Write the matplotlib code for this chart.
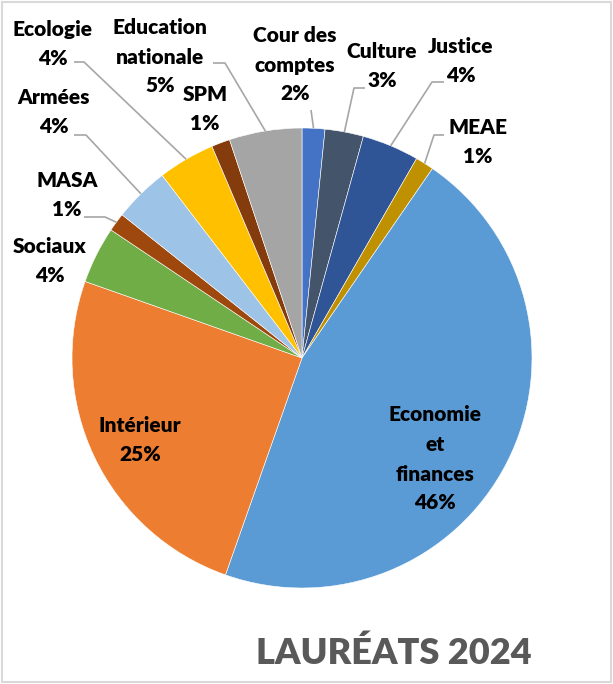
import matplotlib.pyplot as plt
from matplotlib.patches import Rectangle
import numpy as np

# slices, clockwise from 12 o'clock
names = ["Cour des\ncomptes", "Culture", "Justice", "MEAE", "Economie\net\nfinances",
         "Intérieur", "Sociaux", "MASA", "Armées", "Ecologie", "SPM", "Education\nnationale"]
shares = [1.6, 2.7, 4.0, 1.3, 45.8, 25.0, 4.0, 1.3, 3.9, 4.0, 1.3, 5.1]
colors = ["#4472C4", "#44546A", "#2F5597", "#BF9000", "#5B9BD5", "#ED7D31",
          "#70AD47", "#9E480E", "#9DC3E6", "#FFC000", "#843C0C", "#A5A5A5"]
title = "LAURÉATS 2024"

# layout (canvas pixels): label centres and leader lines (elbow x, end x, y)
CX, CY, R = 302, 358, 230
LINE_H = 29
label_pos = [(295, 65), (382, 66), (461, 61), (478, 142), (435, 459), (140, 440),
             (50, 261), (67, 195), (54, 112), (53, 44), (205, 109), (160, 57)]
leaders = [(311, 311, 110), (354, 365, 88), (432, 444, 82), (434, 444, 135), None, None,
           None, (105, 84, 217), (86, 74, 135), (84, 74, 62), None, (225, 213, 63)]


def px(x, y):
    return (x - CX) / R, (CY - y) / R


fig = plt.figure(figsize=(6.13, 6.84), dpi=100)
ax = fig.add_axes([0, 0, 1, 1])
wedges, _ = ax.pie(shares, colors=colors, startangle=90, counterclock=False,
                   radius=1, center=(0, 0),
                   wedgeprops=dict(edgecolor="white", linewidth=0.4))
ax.set_aspect("auto")
ax.set_xlim(px(0, 0)[0], px(613, 0)[0])
ax.set_ylim(px(0, 684)[1], px(0, 0)[1])
ax.axis("off")

lab_style = dict(ha="center", va="center", fontsize=15, fontweight="heavy",
                 family=["Lato", "DejaVu Sans"], color="black", linespacing=1.68)

for w, name, v, pos, ld in zip(wedges, names, shares, label_pos, leaders):
    n = name.count("\n") + 2
    x0, yc = pos
    ax.text(*px(x0, yc - LINE_H / 2), name, **lab_style)
    ax.text(*px(x0, yc + (n - 1) / 2 * LINE_H), f"{v:.0f}%", **lab_style)
    if ld is not None:
        mid = np.deg2rad((w.theta1 + w.theta2) / 2)
        ex, ey = np.cos(mid), np.sin(mid)
        bx, by = px(ld[0], ld[2])
        tx, ty = px(ld[1], ld[2])
        ax.plot([ex, bx, tx], [ey, by, ty], color="#A6A6A6", lw=1.2,
                solid_capstyle="butt")

fig.text(394 / 613, 1 - 653 / 684, title, ha="center", va="center",
         fontsize=26, fontweight="heavy", family=["Lato", "DejaVu Sans"],
         color="#595959")

fig.patches.append(Rectangle((0.003, 0.003), 0.994, 0.994, transform=fig.transFigure,
                             fill=False, edgecolor="#D9D9D9", lw=1.5))

fig.savefig("out.png", dpi=100)
